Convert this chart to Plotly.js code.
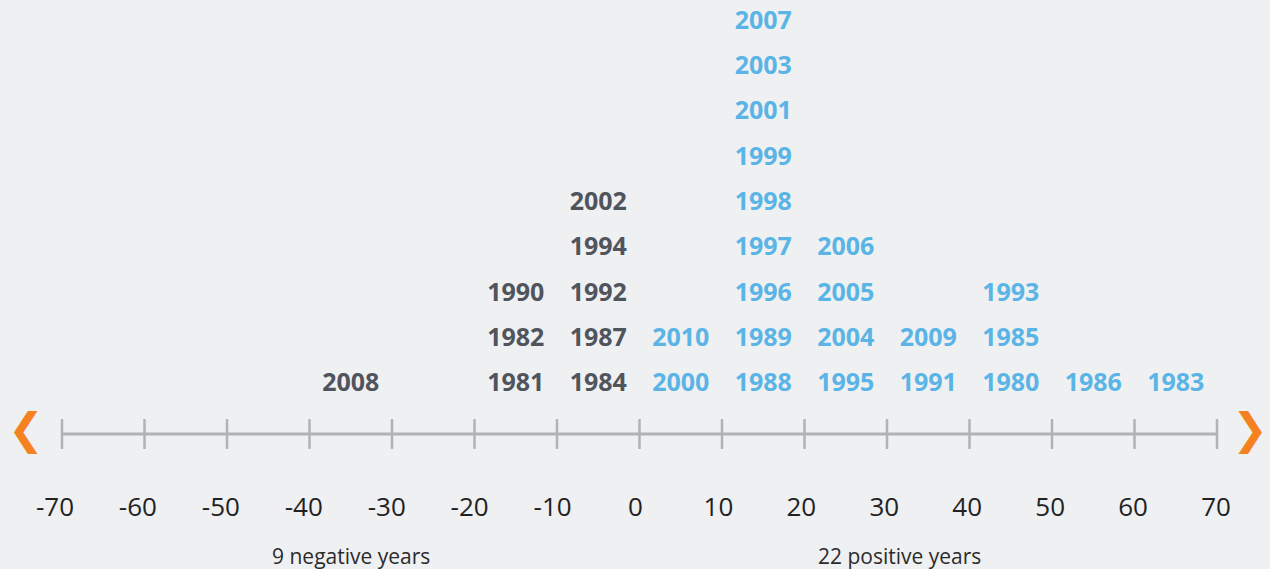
<!DOCTYPE html>
<html>
<head>
<meta charset="utf-8">
<script src="https://cdn.plot.ly/plotly-3.0.1.min.js"></script>
<style>
html,body{margin:0;padding:0;background:#eff0f2;}
#chart{width:1270px;height:569px;}
</style>
</head>
<body>
<div id="chart"></div>
<script>
// Bin centers (difference values) and the years falling into each bin, bottom to top
const binCenters = [-35, -15, -5, 5, 15, 25, 35, 45, 55, 65];
const binYears = [
  ["2008"],
  ["1981", "1982", "1990"],
  ["1984", "1987", "1992", "1994", "2002"],
  ["2000", "2010"],
  ["1988", "1989", "1996", "1997", "1998", "1999", "2001", "2003", "2007"],
  ["1995", "2004", "2005", "2006"],
  ["1991", "2009"],
  ["1980", "1985", "1993"],
  ["1986"],
  ["1983"]
];
const tickValues = [-70, -60, -50, -40, -30, -20, -10, 0, 10, 20, 30, 40, 50, 60, 70];
const summaryLabels = ["9 negative years", "22 positive years"];
const summaryX = [-35, 31.5];

const AXIS_Y = -0.082;
const TICK_HALF = 0.33;
const DARK = "#50545d";
const BLUE = "#5ab5e6";
const GRAY = "#b0b2b6";
const ORANGE = "#f58220";

const neg = {x: [], y: [], t: []};
const pos = {x: [], y: [], t: []};
binCenters.forEach((c, i) => {
  const target = c < 0 ? neg : pos;
  binYears[i].forEach((yr, k) => {
    target.x.push(c);
    target.y.push(k + 1);
    target.t.push(yr);
  });
});

// tick marks
const tx = [], ty = [];
tickValues.forEach(v => { tx.push(v, v, null); ty.push(AXIS_Y - TICK_HALF, AXIS_Y + TICK_HALF, null); });

const textFont = (col) => ({family: "Open Sans", size: 25, color: col, weight: 700});
const common = {hoverinfo: "skip", showlegend: false, cliponaxis: false, xaxis: "x2", yaxis: "y"};

const traces = [
  Object.assign({x: [tickValues[0], tickValues[tickValues.length - 1]], y: [AXIS_Y, AXIS_Y], mode: "lines",
   line: {color: GRAY, width: 3}}, common),
  Object.assign({x: tx, y: ty, mode: "lines", line: {color: GRAY, width: 2.5}}, common),
  Object.assign({x: neg.x, y: neg.y, text: neg.t, mode: "text", textposition: "middle center",
   textfont: textFont(DARK)}, common),
  Object.assign({x: pos.x, y: pos.y, text: pos.t, mode: "text", textposition: "middle center",
   textfont: textFont(BLUE)}, common),
  // invisible anchor for the label axis
  {x: [tickValues[0], tickValues[tickValues.length - 1]], y: [AXIS_Y, AXIS_Y], mode: "markers",
   marker: {opacity: 0}, hoverinfo: "skip", showlegend: false, xaxis: "x", yaxis: "y"}
];

const annotations = summaryLabels.map((s, i) => ({
  x: summaryX[i], y: -0.137, xref: "x2", yref: "paper", text: s, showarrow: false,
  font: {family: "Open Sans", size: 21, color: "#2b2b2b"}, xanchor: "center", yanchor: "middle"
}));
annotations.push(
  {x: -74.4, y: AXIS_Y + 0.09, xref: "x2", yref: "y", text: "❮", showarrow: false,
   font: {family: "DejaVu Sans", size: 43, color: ORANGE}, xanchor: "center", yanchor: "middle"},
  {x: 74.0, y: AXIS_Y + 0.09, xref: "x2", yref: "y", text: "❯", showarrow: false,
   font: {family: "DejaVu Sans", size: 43, color: ORANGE}, xanchor: "center", yanchor: "middle"}
);

const layout = {
  width: 1270, height: 569,
  margin: {l: 0, r: 0, t: 0, b: 80, pad: 0},
  paper_bgcolor: "#eff0f2", plot_bgcolor: "#eff0f2",
  xaxis: {range: [-76.63, 76.51], tickvals: tickValues, ticktext: tickValues.map(String),
    showgrid: false, zeroline: false, showline: false, ticks: "",
    tickfont: {family: "Open Sans", size: 26, color: "#222222"}, fixedrange: true},
  xaxis2: {range: [-77.515, 76.424], overlaying: "x", anchor: "y", visible: false,
    showgrid: false, zeroline: false, fixedrange: true},
  yaxis: {range: [-1.296, 9.499], visible: false, showgrid: false, zeroline: false, fixedrange: true},
  annotations: annotations,
  showlegend: false,
  hovermode: false
};

Plotly.newPlot("chart", traces, layout, {displayModeBar: false, staticPlot: true});
</script>
</body>
</html>
